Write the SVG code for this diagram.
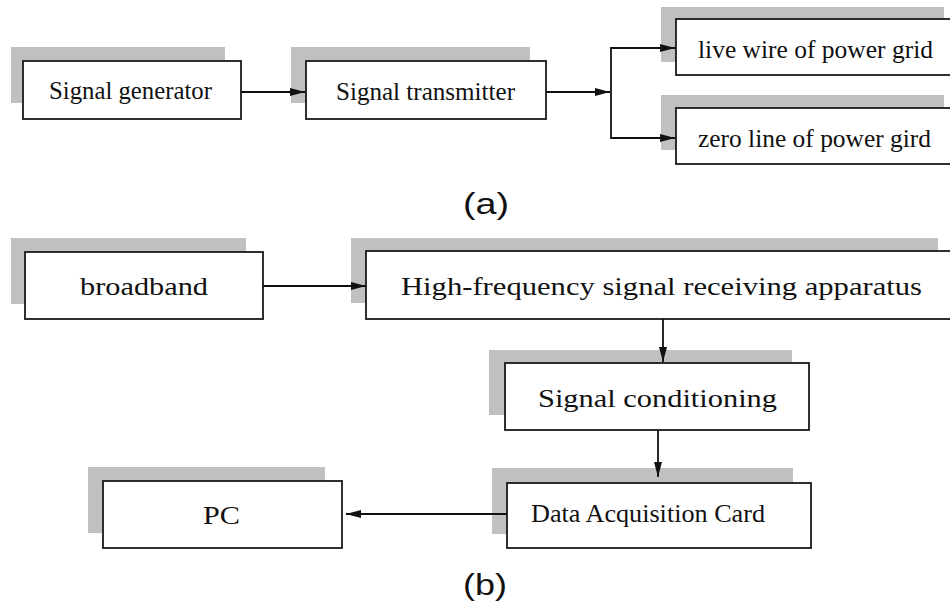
<svg xmlns="http://www.w3.org/2000/svg" width="950" height="604" viewBox="0 0 950 604">
<defs>
<style>
.sh{fill:#c0c0c0;stroke:none}
.bx{fill:#fff;stroke:#1a1a1a;stroke-width:1.8}
.t{font-family:"Liberation Serif","DejaVu Serif",serif;font-size:25px;fill:#111;text-anchor:middle}
.cap{font-family:"Liberation Sans",Arial,sans-serif;font-size:29px;fill:#111;text-anchor:middle}
.c{fill:none;stroke:#111;stroke-width:1.8}
</style>
<marker id="ah" markerUnits="userSpaceOnUse" markerWidth="16" markerHeight="9" refX="15" refY="4.5" orient="auto">
<path d="M0,0.5 L15,4.5 L0,8.5 z" fill="#111"/>
</marker>
</defs>
<rect width="950" height="604" fill="#fff"/>

<g id="signal-generator">
<rect class="sh" x="11" y="47" width="214" height="56"/>
<rect class="bx" x="23" y="61" width="218" height="58"/>
<text class="t" x="130.5" y="99" textLength="163" lengthAdjust="spacingAndGlyphs">Signal generator</text>
</g>
<g id="signal-transmitter">
<rect class="sh" x="291" y="47" width="239" height="56"/>
<rect class="bx" x="306" y="61" width="240" height="58"/>
<text class="t" x="425.5" y="100" textLength="179" lengthAdjust="spacingAndGlyphs">Signal transmitter</text>
</g>
<g id="live-wire">
<rect class="sh" x="661" y="7" width="283" height="55"/>
<rect class="bx" x="676" y="19" width="278" height="56"/>
<text class="t" x="815.5" y="58" textLength="235" lengthAdjust="spacingAndGlyphs">live wire of power grid</text>
</g>
<g id="zero-line">
<rect class="sh" x="661" y="95" width="283" height="55"/>
<rect class="bx" x="676" y="108" width="278" height="56"/>
<text class="t" x="814.5" y="147" textLength="233" lengthAdjust="spacingAndGlyphs">zero line of power gird</text>
</g>
<g id="caption-a">
<text class="cap" x="486" y="214" textLength="46" lengthAdjust="spacingAndGlyphs">(a)</text>
</g>

<g id="broadband">
<rect class="sh" x="11" y="238" width="235" height="66"/>
<rect class="bx" x="25" y="252" width="238" height="67"/>
<text class="t" x="144" y="295" textLength="128" lengthAdjust="spacingAndGlyphs">broadband</text>
</g>
<g id="hf-receiver">
<rect class="sh" x="351" y="238" width="587" height="65"/>
<rect class="bx" x="366" y="251" width="588" height="68"/>
<text class="t" x="661.5" y="295" textLength="521" lengthAdjust="spacingAndGlyphs">High-frequency signal receiving apparatus</text>
</g>
<g id="signal-conditioning">
<rect class="sh" x="489" y="350" width="303" height="65"/>
<rect class="bx" x="505" y="363" width="304" height="67"/>
<text class="t" x="657.5" y="407" textLength="239" lengthAdjust="spacingAndGlyphs">Signal conditioning</text>
</g>
<g id="data-acquisition-card">
<rect class="sh" x="492" y="468" width="301" height="66"/>
<rect class="bx" x="507" y="483" width="304" height="65"/>
<text class="t" x="648" y="522" textLength="234" lengthAdjust="spacingAndGlyphs">Data Acquisition Card</text>
</g>
<g id="pc">
<rect class="sh" x="88" y="467" width="237" height="66"/>
<rect class="bx" x="103" y="481" width="239" height="67"/>
<text class="t" x="221.5" y="524" textLength="37" lengthAdjust="spacingAndGlyphs">PC</text>
</g>
<g id="caption-b">
<text class="cap" x="485" y="595" textLength="44" lengthAdjust="spacingAndGlyphs">(b)</text>
</g>

<g id="connectors">
<line class="c" x1="241" y1="92" x2="305" y2="92" marker-end="url(#ah)"/>
<line class="c" x1="546" y1="92" x2="610" y2="92" marker-end="url(#ah)"/>
<polyline class="c" points="675,48 611,48 611,138 675,138"/>
<line class="c" x1="611" y1="48" x2="675" y2="48" marker-end="url(#ah)"/>
<line class="c" x1="611" y1="138" x2="675" y2="138" marker-end="url(#ah)"/>
<line class="c" x1="263" y1="286" x2="366" y2="286" marker-end="url(#ah)"/>
<line class="c" x1="663" y1="319" x2="663" y2="362" marker-end="url(#ah)"/>
<line class="c" x1="658" y1="430" x2="658" y2="477" marker-end="url(#ah)"/>
<line class="c" x1="507" y1="514" x2="346" y2="514" marker-end="url(#ah)"/>
</g>
</svg>
